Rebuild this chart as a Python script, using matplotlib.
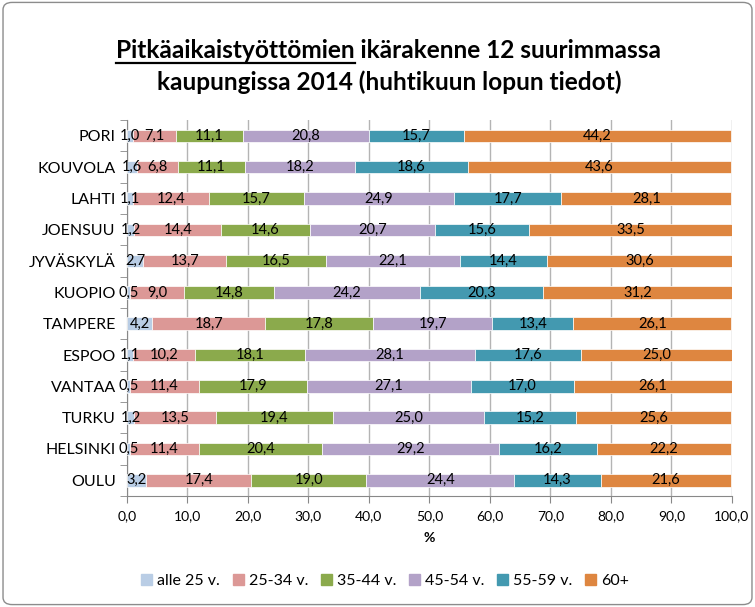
import matplotlib.pyplot as plt
from matplotlib.patches import Patch, FancyBboxPatch

plt.rcParams['font.family'] = ['Liberation Sans Narrow', 'Lato', 'DejaVu Sans']

# kaupungit ylhäältä alas
cities = ['PORI', 'KOUVOLA', 'LAHTI', 'JOENSUU', 'JYVÄSKYLÄ', 'KUOPIO',
          'TAMPERE', 'ESPOO', 'VANTAA', 'TURKU', 'HELSINKI', 'OULU']
groups = ['alle 25 v.', '25-34 v.', '35-44 v.', '45-54 v.', '55-59 v.', '60+']
colors = ['#B9CDE5', '#DC9896', '#8BAA4C', '#B3A2C8', '#4399B0', '#DE8640']

alle25 = [1.0, 1.6, 1.1, 1.2, 2.7, 0.5, 4.2, 1.1, 0.5, 1.2, 0.5, 3.2]
v25_34 = [7.1, 6.8, 12.4, 14.4, 13.7, 9.0, 18.7, 10.2, 11.4, 13.5, 11.4, 17.4]
v35_44 = [11.1, 11.1, 15.7, 14.6, 16.5, 14.8, 17.8, 18.1, 17.9, 19.4, 20.4, 19.0]
v45_54 = [20.8, 18.2, 24.9, 20.7, 22.1, 24.2, 19.7, 28.1, 27.1, 25.0, 29.2, 24.4]
v55_59 = [15.7, 18.6, 17.7, 15.6, 14.4, 20.3, 13.4, 17.6, 17.0, 15.2, 16.2, 14.3]
v60 = [44.2, 43.6, 28.1, 33.5, 30.6, 31.2, 26.1, 25.0, 26.1, 25.6, 22.2, 21.6]

series = [alle25, v25_34, v35_44, v45_54, v55_59, v60]

fig = plt.figure(figsize=(7.55, 6.07), dpi=100)
ax = fig.add_axes([0.168, 0.183, 0.8015, 0.619])

ypos = list(range(len(cities)))
left = [0.0] * len(cities)
for vals, col, name in zip(series, colors, groups):
    bars = ax.barh(ypos, vals, left=left, height=0.4, color=col,
                   edgecolor='white', linewidth=0.5, label=name, zorder=3)
    for b, v in zip(bars, vals):
        ax.text(b.get_x() + b.get_width() / 2, b.get_y() + b.get_height() / 2,
                f'{v:.1f}'.replace('.', ','), ha='center', va='center',
                fontsize=10.5, color='black', zorder=4)
    left = [l + v for l, v in zip(left, vals)]

ax.set_xlim(0, 100)
ax.set_ylim(len(cities) - 0.5, -0.5)
ax.set_xticks(range(0, 101, 10))
ax.set_xticklabels([f'{x:.1f}'.replace('.', ',') for x in range(0, 101, 10)], fontsize=10)
ax.set_yticks(ypos)
ax.set_yticklabels(cities, fontsize=11.5)
ax.set_yticks([i + 0.5 for i in range(-1, len(cities))], minor=True)
ax.tick_params(axis='y', which='major', length=0, pad=8)
ax.tick_params(axis='y', which='minor', length=5, color='#888888')
ax.tick_params(axis='x', length=5, color='#888888', pad=5)
ax.set_xlabel('%', fontsize=10, fontweight='bold', labelpad=7)

ax.grid(axis='x', color='#B4B4B4', linewidth=1, zorder=0)
for s in ['top', 'right']:
    ax.spines[s].set_visible(False)
for s in ['left', 'bottom']:
    ax.spines[s].set_color('#888888')

handles = [Patch(color=c, label=g) for c, g in zip(colors, groups)]
fig.legend(handles=handles, loc='center', bbox_to_anchor=(0.51, 0.043), ncol=6,
           frameon=False, fontsize=11.5, handlelength=0.7, handleheight=0.7,
           handletextpad=0.3, columnspacing=0.8)

# otsikko, ensimmäinen sana alleviivattuna
tsize = 17.6
line1 = 'Pitkäaikaistyöttömien ikärakenne 12 suurimmassa'
y1, y2 = 0.905, 0.851
t1 = fig.text(0.515, y1, line1, ha='center', va='baseline', fontsize=tsize, fontweight='bold')
fig.text(0.515, y2, 'kaupungissa 2014 (huhtikuun lopun tiedot)', ha='center', va='baseline',
         fontsize=tsize, fontweight='bold')
fig.canvas.draw()
r = fig.canvas.get_renderer()
bb = t1.get_window_extent(r)
tmp = fig.text(0, 0, 'Pitkäaikaistyöttömien', fontsize=tsize, fontweight='bold')
w = tmp.get_window_extent(r).width
tmp.remove()
W, H = fig.bbox.width, fig.bbox.height
uy = y1 - 5 / H
fig.add_artist(plt.Line2D([bb.x0 / W, (bb.x0 + w) / W], [uy, uy], color='black', lw=1.6))

fig.patches.append(FancyBboxPatch((0.004, 0.004), 0.992, 0.992, boxstyle='round,pad=0,rounding_size=0.012',
                                  transform=fig.transFigure, fill=False, edgecolor='#8C8C8C', lw=1))

fig.savefig('out.png', dpi=100)
